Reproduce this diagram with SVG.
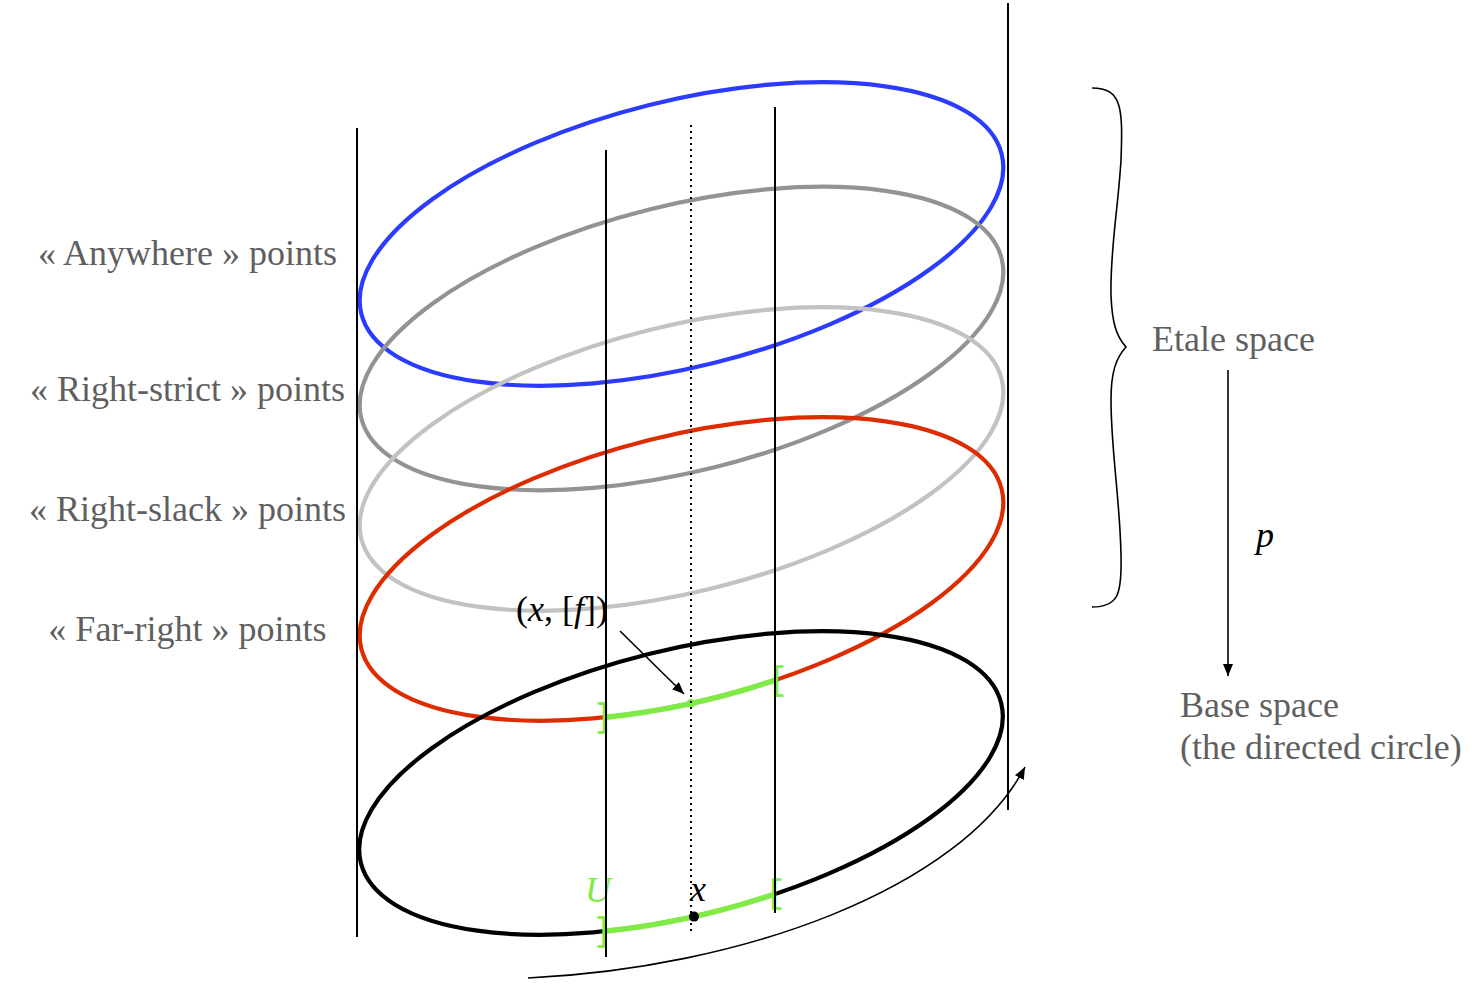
<svg xmlns="http://www.w3.org/2000/svg" width="1475" height="993" viewBox="0 0 1475 993">
<style>
  .lbl { font-family: "Liberation Serif", "Times New Roman", serif; font-size: 36px; fill: #5f5f5f; }
  .blk { font-family: "Liberation Serif", "Times New Roman", serif; font-size: 36px; fill: #000; }
  .grn { font-family: "Liberation Serif", "Times New Roman", serif; font-size: 36px; fill: #80ea46; }
  .brk { stroke: #80ea46; stroke-width: 1.3; }
  .ring { fill: none; stroke-width: 4.2; }
  .vline { stroke: #000; stroke-width: 2; fill: none; }
  .garc { fill: none; stroke: #80ea46; stroke-width: 5.5; }
  .conn { fill: none; stroke: #000; stroke-width: 1.6; }
</style>
<defs>
  <marker id="ah" markerUnits="userSpaceOnUse" markerWidth="14" markerHeight="12" refX="12" refY="5" orient="auto">
    <path d="M0,0 L12,5 L0,10 Z" fill="#000"/>
  </marker>
</defs>
<rect width="1475" height="993" fill="#fff"/>

<g id="ring-anywhere"><ellipse class="ring" stroke="#2b3bff" cx="681.5" cy="234" rx="330" ry="133" transform="rotate(-14 681.5 234)"/></g>
<g id="ring-right-strict"><ellipse class="ring" stroke="#939393" cx="681.5" cy="338.5" rx="330" ry="133" transform="rotate(-14 681.5 338.5)"/></g>
<g id="ring-right-slack"><ellipse class="ring" stroke="#c2c2c2" cx="681.5" cy="459" rx="330" ry="133" transform="rotate(-14 681.5 459)"/></g>
<g id="ring-far-right"><ellipse class="ring" stroke="#dd2c00" cx="681.5" cy="569" rx="330" ry="133" transform="rotate(-14 681.5 569)"/></g>
<g id="ring-base"><ellipse class="ring" stroke="#000" cx="681" cy="783" rx="330" ry="133" transform="rotate(-14 681 783)"/></g>

<g id="section-top">
  <path class="garc" d="M 606 717.2 A 330 133 -14 0 0 775 680.2"/>
  <circle cx="691" cy="703.4" r="4.5" fill="#80ea46"/>
  <text class="grn brk" x="597" y="728">]</text>
  <text class="grn brk" x="772" y="691">[</text>
</g>
<g id="section-base">
  <path class="garc" d="M 606 931.1 A 330 133 -14 0 0 775 894"/>
  <text class="grn brk" x="596.5" y="942">]</text>
  <text class="grn brk" x="770" y="904">[</text>
  <text class="grn" x="585" y="902" font-style="italic">U</text>
  <circle cx="694" cy="916.6" r="5" fill="#000"/>
  <text class="blk" x="690" y="901" font-style="italic">x</text>
</g>

<g id="fibres">
  <line class="vline" x1="357" y1="128" x2="357" y2="937"/>
  <line class="vline" x1="606" y1="150" x2="606" y2="957"/>
  <line class="vline" x1="691" y1="125" x2="691" y2="935" stroke-dasharray="2 4" stroke-width="1.8"/>
  <line class="vline" x1="775" y1="107" x2="775" y2="913"/>
  <line class="vline" x1="1008" y1="3" x2="1008" y2="810"/>
</g>

<g id="labels">
  <text class="lbl" x="187.5" y="265" text-anchor="middle">« Anywhere » points</text>
  <text class="lbl" x="187.5" y="401" text-anchor="middle">« Right-strict » points</text>
  <text class="lbl" x="187.5" y="521" text-anchor="middle">« Right-slack » points</text>
  <text class="lbl" x="187.5" y="641" text-anchor="middle">« Far-right » points</text>
</g>

<g id="point-label">
  <text class="blk" x="516" y="621">(<tspan font-style="italic">x</tspan>, [<tspan font-style="italic">f</tspan>])</text>
</g>

<g id="etale-brace">
  <path class="conn" stroke-width="2" d="M 1092 88 C 1122 88, 1123 108, 1121 160 C 1118 210, 1110 250, 1111 295 C 1112 322, 1116 336, 1126 347 C 1116 358, 1111 372, 1111 400 C 1111 450, 1120 500, 1121 555 C 1122 595, 1118 607, 1092 607"/>
  <text class="lbl" x="1152" y="351">Etale space</text>
</g>

<g id="base-label">
  <text class="lbl" x="1180" y="717">Base space</text>
  <text class="lbl" x="1180" y="759">(the directed circle)</text>
</g>

<g id="p-label">
  <text class="blk" x="1256" y="547" font-style="italic">p</text>
</g>

<g id="connectors">
  <line class="conn" x1="1228" y1="370" x2="1228" y2="676" marker-end="url(#ah)"/>
  <line class="conn" x1="620" y1="631" x2="684" y2="694" marker-end="url(#ah)"/>
  <path class="conn" d="M 528 978 C 740 968, 960 890, 1025 767" marker-end="url(#ah)"/>
</g>
</svg>
